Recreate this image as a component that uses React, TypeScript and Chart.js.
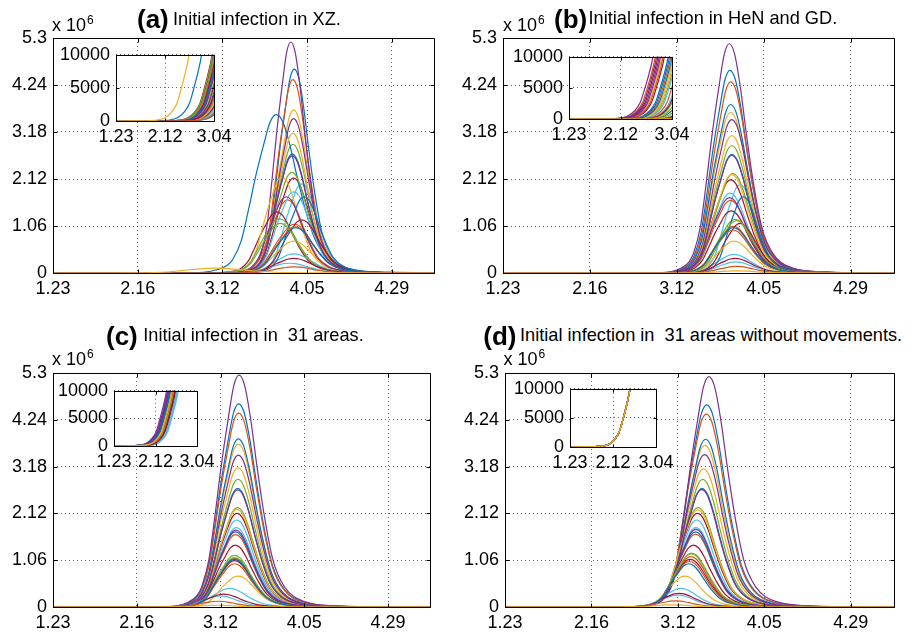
import React, { useEffect, useRef } from 'react';
import { Chart, registerables } from 'chart.js';
Chart.register(...registerables);

const FONT = "'Liberation Sans', Arial, Helvetica, sans-serif";
const COLORS = ['#0072BD', '#D95319', '#EDB120', '#7E2F8E', '#77AC30', '#4DBEEE', '#A2142F'];

// axis ticks (days since 1.23) and their date labels
const X_TICKS = [0, 24, 48, 72, 96];
const X_LABELS = ['1.23', '2.16', '3.12', '4.05', '4.29'];
const X_MAX = 108;
const Y_TICKS = [0, 1.06, 2.12, 3.18, 4.24, 5.3];
const Y_LABELS = ['0', '1.06', '2.12', '3.18', '4.24', '5.3'];
const Y_MAX = 5.3;
const INSET_X_TICKS = [0, 20, 40];
const INSET_X_LABELS = ['1.23', '2.12', '3.04'];
const INSET_X_MAX = 40;
const INSET_Y_TICKS = [0, 5000, 10000];
const INSET_Y_LABELS = ['0', '5000', '10000'];
const INSET_Y_MAX = 10000;

const LETTERS = ['(a)', '(b)', '(c)', '(d)'];
const TITLES = [
  'Initial infection in XZ.',
  'Initial infection in HeN and GD.',
  'Initial infection in  31 areas.',
  'Initial infection in  31 areas without movements.',
];

// epidemic curve shape (days from peak, fraction of peak)
const PROFILE_OFF = [-24, -18, -14.4, -12, -10.7, -8.65, -6.8, -5.1, -3.1, -1.5, 0, 1.6, 3.3, 5.1, 7.1, 9.7, 13, 19, 28, 40, 52];
const PROFILE_FRAC = [0, 0.004, 0.022, 0.05, 0.087, 0.203, 0.406, 0.61, 0.813, 0.955, 1, 0.955, 0.813, 0.61, 0.406, 0.203, 0.087, 0.022, 0.005, 0.001, 0];

// early growth (days relative to reaching 10000, infected count)
const EARLY_OFF = [-30, -20, -14, -10, -7, -5, -3.1, -1.5, 0, 3];
const EARLY_VAL = [0, 20, 100, 440, 1370, 2600, 5000, 7300, 10000, 20000];

// peak (x10^6), peak day, width factor for the 31 areas in each panel
const PEAK_A = [4.60, 4.36, 3.68, 5.21, 2.90, 2.01, 2.14, 3.57, 1.65, 3.15, 3.48, 2.27, 1.83, 1.38, 2.68, 1.10, 2.16, 2.64, 1.22, 0.43, 1.20, 1.72, 1.04, 0.72, 1.72, 1.12, 0.22, 0.33, 1.02, 0.14, 0.11];
const DAY_A = [68.4, 68.0, 68.2, 67.4, 68.0, 70.5, 68.2, 63.3, 66.5, 68.0, 68.2, 67.7, 68.2, 63.4, 67.8, 68.4, 64.9, 67.8, 64.2, 68.2, 70.5, 71.2, 68.6, 68.2, 66.1, 64.4, 67.0, 68.2, 68.8, 68.3, 46.0];
const W_A = [0.8, 0.8, 0.82, 0.78, 0.85, 0.85, 0.88, 1.15, 0.9, 0.82, 0.82, 0.88, 0.9, 0.92, 0.85, 1.0, 0.88, 0.85, 0.95, 1.0, 0.95, 0.85, 1.0, 1.0, 0.9, 0.95, 1.05, 1.0, 1.0, 1.0, 1.6];

const PEAK_B = [4.57, 4.31, 3.62, 5.17, 2.87, 1.99, 2.10, 3.80, 1.64, 3.10, 3.46, 2.24, 1.80, 1.40, 2.67, 1.05, 2.22, 2.65, 1.21, 0.42, 1.12, 1.72, 0.97, 0.72, 1.70, 1.18, 0.25, 0.33, 1.02, 0.15, 0.05];
const DAY_B = [62.7, 62.9, 62.9, 62.5, 63.2, 65.5, 62.9, 62.9, 62.8, 63.2, 63.2, 63.5, 62.7, 63.0, 63.2, 63.6, 63.2, 63.2, 64.1, 63.8, 65.5, 66.4, 63.5, 63.8, 62.6, 64.5, 64.2, 64.1, 63.6, 64.4, 64.6];
const W_B = [0.92, 0.92, 0.92, 0.92, 0.92, 0.8, 0.92, 0.92, 0.92, 0.92, 0.92, 0.92, 0.92, 0.92, 0.92, 0.92, 0.92, 0.92, 0.9, 0.9, 0.85, 0.75, 0.92, 0.9, 0.92, 0.9, 0.9, 0.9, 0.92, 0.9, 0.9];

const PEAK_C = [4.60, 4.39, 3.69, 5.25, 2.89, 1.97, 2.12, 3.81, 1.64, 3.15, 3.44, 2.25, 1.80, 1.40, 2.68, 1.10, 2.21, 2.65, 1.17, 0.42, 1.05, 1.70, 0.98, 0.70, 1.74, 1.12, 0.25, 0.29, 1.08, 0.13, 0.04];
const DAY_C = [53.2, 53.2, 53.1, 53.3, 53.0, 52.6, 52.7, 53.1, 52.3, 53.0, 53.1, 52.8, 52.5, 52.2, 52.9, 52.0, 52.7, 52.9, 52.0, 50.6, 52.0, 52.3, 52.0, 53.0, 52.4, 52.0, 47.8, 48.9, 52.0, 47.3, 47.0];
const W_C = [1, 1, 0.98, 1, 0.96, 0.94, 0.96, 0.98, 0.94, 0.98, 0.98, 0.96, 0.94, 0.94, 0.96, 0.94, 0.96, 0.96, 0.94, 0.95, 0.94, 0.94, 0.94, 0.93, 0.94, 0.94, 0.95, 0.95, 0.93, 0.95, 0.95];

const PEAK_D = [4.58, 4.37, 3.66, 5.22, 2.89, 1.97, 2.12, 3.80, 1.65, 3.13, 3.45, 2.25, 1.80, 1.40, 2.68, 1.14, 2.20, 2.66, 1.22, 0.42, 1.08, 1.70, 1.03, 0.70, 1.76, 1.20, 0.27, 0.31, 0.98, 0.14, 0.05];
const DAY_D = [56.0, 55.9, 55.5, 56.6, 54.9, 53.2, 53.4, 55.7, 52.9, 55.1, 55.4, 53.6, 53.0, 52.3, 54.7, 51.6, 53.5, 54.6, 51.8, 48.8, 51.4, 52.9, 51.2, 49.9, 53.0, 51.7, 48.0, 48.3, 51.0, 47.3, 46.5];
const W_D = [1.0, 1.0, 0.97, 1.0, 0.94, 0.91, 0.94, 0.97, 0.91, 0.97, 0.97, 0.94, 0.91, 0.91, 0.94, 0.91, 0.94, 0.94, 0.91, 0.88, 0.91, 0.91, 0.91, 0.88, 0.91, 0.91, 0.88, 0.88, 0.88, 0.88, 0.88];

// day on which each area's count reaches 10000 (insets)
const T10K_A = [41.5, 40.5, 42.0, 41.0, 42.5, 45.0, 40.8, 34.9, 39.5, 43.0, 41.8, 44.0, 46.0, 39.2, 43.5, 44.5, 39.6, 42.8, 39.4, 47.0, 45.5, 48.0, 40.2, 44.8, 39.8, 40.0, 46.5, 43.8, 41.2, 47.5, 29.8];
const T10K_B = [38.5, 33.5, 40.5, 32.6, 41.5, 44.0, 34.5, 39.0, 43.0, 36.0, 35.0, 45.0, 42.0, 37.0, 47.0, 36.5, 41.0, 34.0, 48.0, 52.0, 44.5, 50.0, 39.5, 49.0, 35.5, 46.0, 53.0, 51.0, 40.0, 55.0, 57.0];
const T10K_C = [26.5, 27.0, 27.8, 25.3, 28.5, 30.9, 29.5, 26.2, 28.0, 27.5, 25.8, 28.8, 30.2, 29.0, 26.8, 28.2, 27.6, 26.0, 28.6, 30.5, 29.2, 27.2, 28.4, 27.9, 26.3, 28.7, 30.6, 29.6, 27.1, 28.3, 28.0];
const T10K_D = [27.9, 27.9, 27.9, 27.9, 27.9, 27.9, 27.9, 27.9, 27.9, 27.9, 27.9, 27.9, 27.9, 27.9, 27.9, 27.9, 27.9, 27.9, 27.9, 27.9, 27.9, 27.9, 27.9, 27.9, 27.9, 27.9, 27.9, 27.9, 27.9, 27.9, 27.9];

type Box = { cx: number; cy: number; cw: number; ch: number; L: number; T: number; R: number; B: number };

function mainSets(peaks: number[], days: number[], widths: number[]) {
  const sets = peaks.map((p, i) => {
    const pts: { x: number; y: number }[] = [{ x: -1, y: 0 }];
    PROFILE_OFF.forEach((o, k) => {
      pts.push({ x: days[i] + o * widths[i], y: p * PROFILE_FRAC[k] });
    });
    pts.push({ x: Math.max(130, pts[pts.length - 1].x + 1), y: 0 });
    return {
      data: pts,
      borderColor: COLORS[i % 7],
      borderWidth: 1.2,
      pointRadius: 0,
      cubicInterpolationMode: 'monotone',
      fill: false,
      clip: 0,
    };
  });
  return sets.reverse();
}

function insetSets(t10k: number[]) {
  const sets = t10k.map((t, i) => {
    const pts: { x: number; y: number }[] = [{ x: -1, y: 0 }];
    EARLY_OFF.forEach((o, k) => {
      const x = t + o;
      if (x > -1) pts.push({ x, y: EARLY_VAL[k] });
    });
    return {
      data: pts,
      borderColor: COLORS[i % 7],
      borderWidth: 1.2,
      pointRadius: 0,
      cubicInterpolationMode: 'monotone',
      fill: false,
      clip: 0,
    };
  });
  return sets.reverse();
}

const framePlugin = {
  id: 'frame',
  beforeDraw(chart: any, _args: any, opts: any) {
    if (!opts || !opts.fill) return;
    const { ctx, chartArea: a } = chart;
    ctx.save();
    ctx.fillStyle = '#ffffff';
    ctx.fillRect(a.left, a.top, a.right - a.left, a.bottom - a.top);
    ctx.restore();
  },
  afterDraw(chart: any, _args: any, opts: any) {
    const { ctx, chartArea: a, scales } = chart;
    const len = (opts && opts.tickLen) || 4;
    const l = Math.round(a.left) + 0.5;
    const r = Math.round(a.right) + 0.5;
    const t = Math.round(a.top) + 0.5;
    const b = Math.round(a.bottom) + 0.5;
    ctx.save();
    ctx.strokeStyle = '#000';
    ctx.lineWidth = 1;
    ctx.beginPath();
    scales.x.ticks.forEach((tk: any) => {
      const px = Math.round(scales.x.getPixelForValue(tk.value)) + 0.5;
      ctx.moveTo(px, b);
      ctx.lineTo(px, b - len);
      ctx.moveTo(px, t);
      ctx.lineTo(px, t + len);
    });
    scales.y.ticks.forEach((tk: any) => {
      const py = Math.round(scales.y.getPixelForValue(tk.value)) + 0.5;
      ctx.moveTo(l, py);
      ctx.lineTo(l + len, py);
      ctx.moveTo(r, py);
      ctx.lineTo(r - len, py);
    });
    ctx.stroke();
    ctx.beginPath();
    ctx.rect(l, t, r - l, b - t);
    ctx.stroke();
    ctx.restore();
  },
};

function buildConfig(
  datasets: any[],
  box: Box,
  xT: number[], xL: string[], xMax: number,
  yT: number[], yL: string[], yMax: number,
  tickLen: number, inset: boolean
): any {
  const yW = box.L - box.cx;
  const padTop = box.T - box.cy;
  const padRight = box.cx + box.cw - box.R;
  const xH = box.cy + box.ch - box.B;
  const tickFont = { family: FONT, size: 18 };
  return {
    type: 'line',
    data: { datasets },
    options: {
      animation: false,
      responsive: false,
      maintainAspectRatio: false,
      events: [],
      layout: { padding: { left: 0, top: padTop, right: padRight, bottom: 0 } },
      plugins: {
        legend: { display: false },
        tooltip: { enabled: false },
        title: { display: false },
        frame: { tickLen, fill: inset },
      },
      scales: {
        x: {
          type: 'linear',
          min: 0,
          max: xMax,
          afterBuildTicks: (s: any) => { s.ticks = xT.map((v) => ({ value: v })); },
          afterFit: (s: any) => { s.height = xH; },
          ticks: {
            autoSkip: false, maxRotation: 0, minRotation: 0, padding: 5,
            color: '#000', font: tickFont,
            callback: (_v: any, i: number) => xL[i],
          },
          grid: { color: 'rgba(0,0,0,0.6)', lineWidth: 1, drawTicks: false },
          border: { display: false, dash: [1, 3] },
        },
        y: {
          type: 'linear',
          min: 0,
          max: yMax,
          afterBuildTicks: (s: any) => { s.ticks = yT.map((v) => ({ value: v })); },
          afterFit: (s: any) => { s.width = yW; },
          ticks: {
            autoSkip: false, padding: 6,
            color: '#000', font: tickFont,
            callback: (_v: any, i: number) => yL[i],
          },
          grid: { color: 'rgba(0,0,0,0.6)', lineWidth: 1, drawTicks: false },
          border: { display: false, dash: [1, 3] },
        },
      },
    },
    plugins: [framePlugin],
  };
}

function ChartCanvas({ box, make }: { box: Box; make: () => any }) {
  const ref = useRef<HTMLCanvasElement | null>(null);
  useEffect(() => {
    if (!ref.current) return;
    const chart = new Chart(ref.current, make());
    return () => chart.destroy();
  }, []);
  return (
    <canvas
      ref={ref}
      width={box.cw}
      height={box.ch}
      style={{ position: 'absolute', left: box.cx, top: box.cy, width: box.cw, height: box.ch }}
    />
  );
}

const MAIN_BOXES: Box[] = [
  { cx: 0, cy: 20, cw: 455, ch: 290, L: 53, T: 38, R: 434, B: 273 },
  { cx: 455, cy: 20, cw: 462, ch: 290, L: 503, T: 38, R: 894, B: 273 },
  { cx: 0, cy: 355, cw: 455, ch: 280, L: 53, T: 373, R: 430, B: 607 },
  { cx: 455, cy: 355, cw: 462, ch: 280, L: 505, T: 373, R: 894, B: 607 },
];
const INSET_BOXES: Box[] = [
  { cx: 58, cy: 38, cw: 182, ch: 113, L: 116, T: 52, R: 214, B: 121 },
  { cx: 510, cy: 40, cw: 188, ch: 110, L: 569, T: 54, R: 672, B: 119 },
  { cx: 56, cy: 374, cw: 167, ch: 102, L: 114, T: 388, R: 197, B: 446 },
  { cx: 512, cy: 372, cw: 170, ch: 105, L: 570, T: 386, R: 656, B: 447 },
];

const MAIN_DATA = [
  () => mainSets(PEAK_A, DAY_A, W_A),
  () => mainSets(PEAK_B, DAY_B, W_B),
  () => mainSets(PEAK_C, DAY_C, W_C),
  () => mainSets(PEAK_D, DAY_D, W_D),
];
const INSET_DATA = [
  () => insetSets(T10K_A),
  () => insetSets(T10K_B),
  () => insetSets(T10K_C),
  () => insetSets(T10K_D),
];

// title layout: [letterLeft, letterBaseline, textLeft, textBaseline, expLeft, expBaseline]
const TITLE_POS = [
  [137, 28, 173, 25, 52, 31.5],
  [554, 28, 588.5, 24.5, 503, 31],
  [106, 344.7, 143.3, 341.7, 52, 365],
  [483.3, 344.7, 520, 341.7, 503.5, 365],
];

export default function App() {
  return (
    <div style={{ position: 'absolute', left: 0, top: 0, width: 917, height: 635, background: '#fff', overflow: 'hidden', fontFamily: FONT, color: '#000' }}>
      {MAIN_BOXES.map((box, i) => (
        <ChartCanvas key={'m' + i} box={box} make={() => buildConfig(MAIN_DATA[i](), box, X_TICKS, X_LABELS, X_MAX, Y_TICKS, Y_LABELS, Y_MAX, 4, false)} />
      ))}
      {INSET_BOXES.map((box, i) => (
        <ChartCanvas key={'i' + i} box={box} make={() => buildConfig(INSET_DATA[i](), box, INSET_X_TICKS, INSET_X_LABELS, INSET_X_MAX, INSET_Y_TICKS, INSET_Y_LABELS, INSET_Y_MAX, 3, true)} />
      ))}
      {TITLE_POS.map((p, i) => (
        <React.Fragment key={'t' + i}>
          <div style={{ position: 'absolute', left: p[0], top: p[1] - 22, fontSize: 26, fontWeight: 'bold', lineHeight: 1, whiteSpace: 'pre' }}>{LETTERS[i]}</div>
          <div style={{ position: 'absolute', left: p[2], top: p[3] - 15.4, fontSize: 18.2, lineHeight: 1, whiteSpace: 'pre' }}>{TITLES[i]}</div>
          <div style={{ position: 'absolute', left: p[4], top: p[5] - 15.2, fontSize: 18, lineHeight: 1, whiteSpace: 'pre' }}>
            x 10<span style={{ fontSize: 12, position: 'relative', top: -7, marginLeft: 1 }}>6</span>
          </div>
        </React.Fragment>
      ))}
    </div>
  );
}
